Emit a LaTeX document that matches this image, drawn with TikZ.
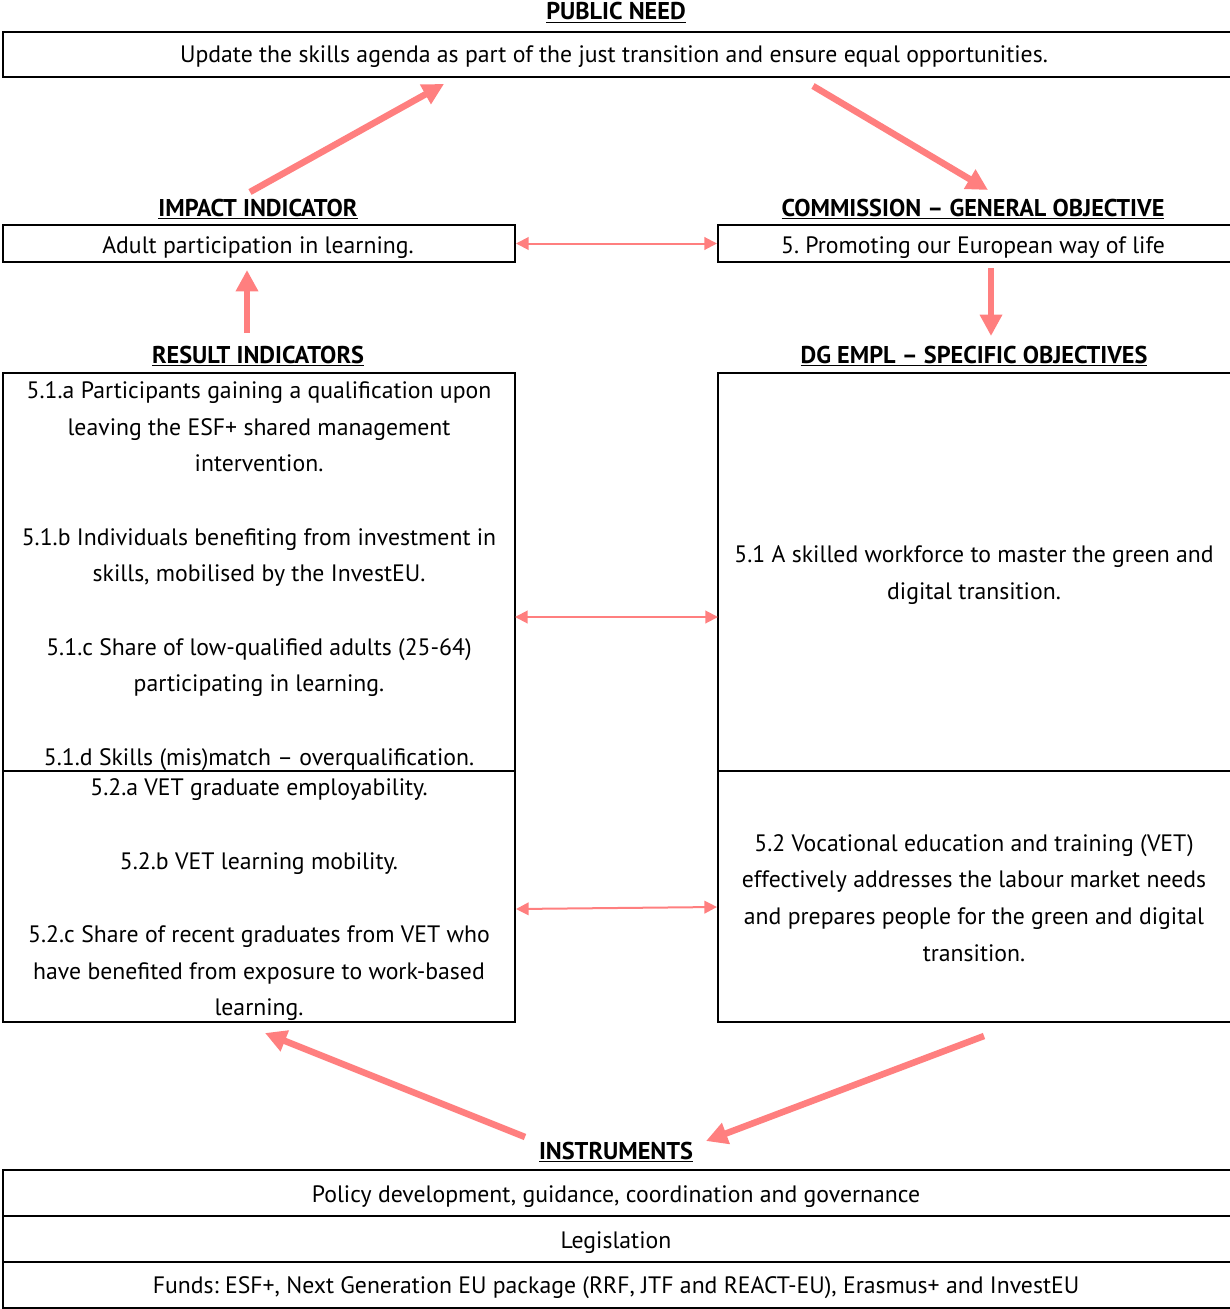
\documentclass[tikz,border=0pt]{standalone}
\usepackage{fontspec}
\setmainfont{PT Sans}
\usetikzlibrary{arrows.meta,fit}
\definecolor{arrowc}{RGB}{255,127,127}
\frenchspacing
\begin{document}
\frenchspacing
\begin{tikzpicture}[x=0.75pt,y=-0.75pt,
  box/.style={draw,line width=1.5pt,inner sep=0pt,rectangle},
  txt/.style={font=\fontsize{17.8}{27.5}\selectfont\frenchspacing,align=center,inner sep=0pt},
  line/.style={font=\fontsize{17.8}{27.5}\selectfont\frenchspacing,inner sep=0pt,anchor=base},
  head/.style={font=\fontsize{18.2}{20}\selectfont\bfseries,inner sep=0pt,anchor=base},
  bigarrow/.style={arrowc,line width=4.9pt,-{Triangle[length=16pt,width=16pt]}},
  thinarrow/.style={arrowc,line width=1.5pt,{Triangle[length=9.5pt,width=9.5pt]}-{Triangle[length=9.5pt,width=9.5pt]}}]
\useasboundingbox (0,0) rectangle (1229,1309);

% boxes
\node[box,fit={(3,32)(1232,77)}] (pn) {};
\node[box,fit={(3,225)(515,262)}] (ii) {};
\node[box,fit={(718,225)(1232,262)}] (go) {};
\node[box,fit={(3,373)(515,771)}] (ri1) {};
\node[box,fit={(3,771)(515,1022)}] (ri2) {};
\node[box,fit={(718,373)(1232,771)}] (so1) {};
\node[box,fit={(718,771)(1232,1022)}] (so2) {};
\node[box,fit={(3,1170)(1232,1216)}] (in1) {};
\node[box,fit={(3,1216)(1232,1262)}] (in2) {};
\node[box,fit={(3,1262)(1232,1308)}] (in3) {};

% headings
\node[head] (hpn) at (616,20) {\underline{PUBLIC NEED}};
\node[head] (hii) at (258,216) {\underline{IMPACT INDICATOR}};
\node[head] (hgo) at (973,216) {\underline{COMMISSION -- GENERAL OBJECTIVE}};
\node[head] (hri) at (258,363) {\underline{RESULT INDICATORS}};
\node[head] (hso) at (974,363) {\underline{DG EMPL -- SPECIFIC OBJECTIVES}};
\node[head] (hin) at (616,1159) {\underline{INSTRUMENTS}};

% texts
\node[line] (tpn) at (614,63) {Update the skills agenda as part of the just transition and ensure equal opportunities.};
\node[line] (tii) at (258,253) {Adult participation in learning.};
\node[line] (tgo) at (973,253) {5. Promoting our European way of life};
\node[txt] (tri1) at (259,576) {5.1.a Participants gaining a qualification upon\\
leaving the ESF+ shared management\\
intervention.\\[27.5pt]
5.1.b Individuals benefiting from investment in\\
skills, mobilised by the InvestEU.\\[27.5pt]
5.1.c Share of low-qualified adults (25-64)\\
participating in learning.\\[27.5pt]
5.1.d Skills (mis)match -- overqualification.};
\node[txt] (tri2) at (259,900) {5.2.a VET graduate employability.\\[27.5pt]
5.2.b VET learning mobility.\\[27.5pt]
5.2.c Share of recent graduates from VET who\\
have benefited from exposure to work-based\\
learning.};
\node[txt] (tso1) at (974,575) {5.1 A skilled workforce to master the green and\\
digital transition.};
\node[txt] (tso2) at (974,898) {5.2 Vocational education and training (VET)\\
effectively addresses the labour market needs\\
and prepares people for the green and digital\\
transition.};
\node[line] (tin1) at (616,1202) {Policy development, guidance, coordination and governance};
\node[line] (tin2) at (616,1248) {Legislation};
\node[line] (tin3) at (616,1293) {Funds: ESF+, Next Generation EU package (RRF, JTF and REACT-EU), Erasmus+ and InvestEU};

% arrow end points
\coordinate (a1s) at (250,192); \coordinate (a1e) at (444,84);
\coordinate (a2s) at (813,86);  \coordinate (a2e) at (988,190);
\coordinate (a3s) at (247,333); \coordinate (a3e) at (247,270);
\coordinate (a4s) at (991,268); \coordinate (a4e) at (991,336);
\coordinate (a5s) at (525,1137); \coordinate (a5e) at (265,1033);
\coordinate (a6s) at (984,1036); \coordinate (a6e) at (706,1141);
\coordinate (r1e) at (515,617); \coordinate (s1w) at (718,617);
\coordinate (r2e) at (516,909); \coordinate (s2w) at (717,907);

\draw[bigarrow] (a1s) -- (a1e);
\draw[bigarrow] (a2s) -- (a2e);
\draw[bigarrow] (a3s) -- (a3e);
\draw[bigarrow] (a4s) -- (a4e);
\draw[bigarrow] (a5s) -- (a5e);
\draw[bigarrow] (a6s) -- (a6e);

\draw[thinarrow] (ii.east) -- (go.west);
\draw[thinarrow] (r1e) -- (s1w);
\draw[thinarrow] (r2e) -- (s2w);
\end{tikzpicture}
\end{document}
